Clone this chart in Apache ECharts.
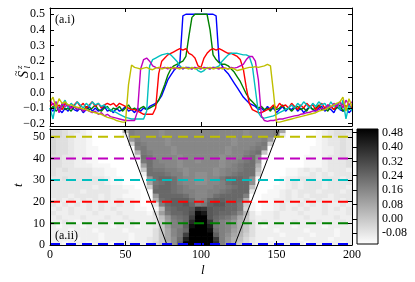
<!DOCTYPE html>
<html><head><meta charset="utf-8">
<script src="https://cdn.jsdelivr.net/npm/echarts@6/dist/echarts.min.js"></script>
<style>html,body{margin:0;padding:0;background:#fff}#c{width:415px;height:282px}</style>
</head><body><div id="c"></div>
<script>
// ---------- data ----------
const sites = [0,2,4,6,8,10,12,14,16,18,20,22,24,26,28,30,32,34,36,38,40,42,44,46,48,50,52,54,56,58,60,62,64,66,68,70,72,74,76,78,80,82,84,86,88,90,92,94,96,98,100,102,104,106,108,110,112,114,116,118,120,122,124,126,128,130,132,134,136,138,140,142,144,146,148,150,152,154,156,158,160,162,164,166,168,170,172,174,176,178,180,182,184,186,188,190,192,194,196,198,200];
const profileTimes = [0.5, 10, 20, 30, 40, 50];

const szT0 = [-0.10,-0.12,-0.09,-0.11,-0.13,-0.10,-0.12,-0.09,-0.11,-0.12,
 -0.10,-0.13,-0.11,-0.09,-0.12,-0.10,-0.12,-0.11,-0.09,-0.12,
 -0.11,-0.13,-0.10,-0.12,-0.11,-0.09,-0.12,-0.11,-0.13,-0.10,
 -0.12,-0.10,-0.11,-0.09,-0.08,-0.07,-0.05,-0.02,0.03,0.08,
 0.11,0.14,0.16,0.19,0.49,0.50,0.50,0.50,0.50,0.50,
 0.50,0.50,0.50,0.50,0.50,0.49,0.20,0.17,0.14,0.12,
 0.09,0.06,0.03,0.00,-0.03,-0.05,-0.07,-0.08,-0.09,-0.11,
 -0.10,-0.12,-0.09,-0.11,-0.10,-0.13,-0.11,-0.09,-0.12,-0.10,
 -0.11,-0.09,-0.12,-0.10,-0.13,-0.11,-0.09,-0.11,-0.12,-0.10,
 -0.09,-0.12,-0.10,-0.11,-0.13,-0.09,-0.11,-0.12,-0.10,-0.13,
 -0.11];
const szT10 = [-0.11,-0.09,-0.12,-0.10,-0.08,-0.11,-0.10,-0.12,-0.09,-0.11,
 -0.10,-0.12,-0.09,-0.11,-0.10,-0.08,-0.11,-0.12,-0.10,-0.09,
 -0.12,-0.10,-0.11,-0.09,-0.12,-0.10,-0.08,-0.11,-0.10,-0.12,
 -0.10,-0.09,-0.11,-0.10,-0.09,-0.08,-0.05,0.00,0.05,0.11,
 0.15,0.17,0.18,0.19,0.20,0.23,0.36,0.48,0.50,0.50,
 0.50,0.50,0.50,0.40,0.24,0.21,0.19,0.18,0.18,0.17,
 0.15,0.13,0.10,0.07,0.03,-0.01,-0.04,-0.06,-0.08,-0.10,
 -0.09,-0.11,-0.10,-0.12,-0.09,-0.11,-0.10,-0.08,-0.11,-0.10,
 -0.12,-0.10,-0.09,-0.11,-0.10,-0.12,-0.09,-0.11,-0.10,-0.08,
 -0.11,-0.10,-0.12,-0.09,-0.11,-0.10,-0.08,-0.12,-0.10,-0.11,
 -0.09];
const szT20 = [-0.09,-0.07,-0.10,-0.08,-0.11,-0.07,-0.09,-0.10,-0.08,-0.06,
 -0.09,-0.07,-0.10,-0.08,-0.06,-0.09,-0.07,-0.10,-0.08,-0.07,
 -0.08,-0.07,-0.09,-0.07,-0.08,-0.09,-0.10,-0.11,-0.11,-0.12,
 -0.13,-0.14,-0.14,-0.14,-0.14,-0.10,0.12,0.20,0.22,0.24,
 0.25,0.26,0.27,0.28,0.27,0.28,0.25,0.24,0.22,0.17,
 0.16,0.22,0.25,0.27,0.28,0.27,0.28,0.27,0.26,0.25,
 0.25,0.24,0.23,0.21,0.15,0.03,-0.07,-0.11,-0.12,-0.13,
 -0.13,-0.12,-0.11,-0.10,-0.08,-0.10,-0.07,-0.09,-0.08,-0.10,
 -0.07,-0.09,-0.11,-0.08,-0.10,-0.07,-0.09,-0.08,-0.11,-0.09,
 -0.07,-0.10,-0.08,-0.09,-0.11,-0.08,-0.10,-0.07,-0.09,-0.08,
 -0.10];
const szT30 = [-0.10,-0.17,-0.06,-0.12,-0.08,-0.05,-0.10,-0.07,-0.09,-0.06,
 -0.08,-0.10,-0.07,-0.09,-0.06,-0.08,-0.07,-0.09,-0.08,-0.10,
 -0.11,-0.12,-0.13,-0.14,-0.15,-0.16,-0.165,-0.17,-0.17,-0.17,
 -0.17,-0.17,-0.12,0.17,0.21,0.22,0.23,0.24,0.245,0.25,
 0.24,0.22,0.20,0.17,0.15,0.16,0.16,0.15,0.16,0.14,
 0.13,0.14,0.16,0.15,0.16,0.16,0.17,0.20,0.22,0.24,
 0.25,0.25,0.25,0.245,0.24,0.24,0.23,0.17,0.02,-0.13,
 -0.16,-0.165,-0.16,-0.155,-0.15,-0.14,-0.13,-0.12,-0.11,-0.10,
 -0.08,-0.10,-0.07,-0.09,-0.06,-0.08,-0.10,-0.07,-0.09,-0.06,
 -0.08,-0.07,-0.10,-0.06,-0.09,-0.07,-0.11,-0.05,-0.17,-0.08,
 -0.12];
const szT40 = [-0.05,-0.08,-0.06,-0.13,-0.07,-0.09,-0.08,-0.10,-0.09,-0.11,
 -0.10,-0.12,-0.11,-0.12,-0.13,-0.12,-0.14,-0.13,-0.15,-0.14,
 -0.155,-0.16,-0.165,-0.17,-0.175,-0.18,-0.18,-0.18,-0.18,-0.12,
 0.15,0.21,0.22,0.20,0.17,0.16,0.155,0.155,0.16,0.15,
 0.16,0.15,0.155,0.16,0.15,0.16,0.155,0.15,0.16,0.155,
 0.15,0.16,0.155,0.15,0.16,0.155,0.15,0.16,0.155,0.15,
 0.16,0.155,0.16,0.17,0.18,0.21,0.23,0.23,0.20,0.08,
 -0.15,-0.18,-0.185,-0.18,-0.18,-0.175,-0.17,-0.17,-0.165,-0.16,
 -0.155,-0.15,-0.148,-0.14,-0.137,-0.13,-0.127,-0.12,-0.118,-0.11,
 -0.10,-0.11,-0.08,-0.10,-0.07,-0.09,-0.06,-0.10,-0.05,-0.08,
 -0.06];
const szT50 = [-0.06,-0.03,-0.10,-0.04,-0.07,-0.06,-0.08,-0.08,-0.09,-0.095,
 -0.10,-0.105,-0.11,-0.12,-0.125,-0.13,-0.135,-0.14,-0.15,-0.16,
 -0.165,-0.17,-0.18,-0.185,-0.19,-0.19,0.05,0.175,0.16,0.155,
 0.15,0.155,0.16,0.15,0.145,0.155,0.16,0.15,0.155,0.16,
 0.15,0.16,0.155,0.15,0.16,0.155,0.15,0.16,0.15,0.155,
 0.16,0.15,0.155,0.16,0.15,0.155,0.16,0.15,0.155,0.15,
 0.155,0.15,0.14,0.145,0.15,0.155,0.16,0.16,0.165,0.16,
 0.165,0.17,0.18,0.17,0.00,-0.19,-0.19,-0.185,-0.18,-0.175,
 -0.17,-0.165,-0.16,-0.155,-0.15,-0.145,-0.14,-0.135,-0.13,-0.12,
 -0.115,-0.11,-0.10,-0.09,-0.08,-0.07,-0.06,-0.03,-0.12,-0.04,
 -0.09];

// heatmap: cell centres and coded levels (one character per cell)
const heatL = [2,6,10,14,18,22,26,30,34,38,42,46,50,54,58,62,66,70,74,78,82,86,90,94,98,102,106,110,114,118,122,126,130,134,138,142,146,150,154,158,162,166,170,174,178,182,186,190,194,198];
const heatT = [1,3,5,7,9,11,13,15,17,19,21,23,25,27,29,31,33,35,37,39,41,43,45,47,49,51,53];
const heatCodes = "0123456789abcdefghijklmnopqrstuvw";
const heatLevels = [-0.14,-0.12,-0.10,-0.08,-0.06,-0.04,-0.02,0.00,0.02,0.04,0.06,0.08,0.10,0.12,0.14,0.16,0.18,0.20,0.22,0.24,0.26,0.28,0.30,0.32,0.34,0.36,0.38,0.40,0.42,0.44,0.46,0.48,0.50];
const heatRows = [
 "2212221222122222357aejwwwwwrgda7532221222212222212",
 "2222122212222122347beiswwwwpgda8532212222122221222",
 "2212222212222122247bfhowwwwkgeb9642222122221222122",
 "2221222122221222247bfhjwwwuigfca742221222212222122",
 "2122212222122212237cggkuwwshgfda742122221222212222",
 "2232122232222322237cghjrwwpigfda742322223222322232",
 "2322232223223222238dhijowwljihfb732223222232222322",
 "322322232223222214chjjkmvtlkjjif931223222322232223",
 "2323223232322211019ijkklqplkkjjh510112323232232323",
 "323232323223221003gjkkljghklljjh610112322323232232",
 "23232323232322100aijkkkifgjkkjjia00112232232322323",
 "33323333232211100djjjjigffgijjjjg00111232323332333",
 "33333233332221100jjjihggffgghijjj30011232333233323",
 "33333332332211006ijjihgffffgghijj80001123233323332",
 "3333333332110000bhijigffeeffgijjje0000123233323333",
 "3343333332110000dijjigffeeffhjjjie1000122333233323",
 "4333333221100002iiihggefeefefghiii6000011223232333",
 "4343333221100007ihhggfeffffefgghii8000011232323332",
 "443322211100000ciggffeffffffefghiia000000011123334",
 "443322110000000higfffeffefffeffghid000000011123334",
 "443322110000004ihffffeffffffefffhie000000011123343",
 "54432211000000ahgfffeffffffffeffghi700000001122343",
 "54432211000000ghffffeffffffffefffghg00000001122343",
 "54432210000006hgfffeffffffffffefffgh60000000123343",
 "5443221000000dgffffeffffffffffeffffgd0000000123343",
 "5543221000002gffffefffffffffffffeffffg300000123443",
 "5543321000009gffffefffffffffffffeffffgb00000123444"
];
const coneLeft = [[77.5, 0], [49.0, 53.6]];
const coneRight = [[122.3, 0], [151.7, 53.6]];

// axes / ticks
const xTicks = [0, 50, 100, 150, 200];
const szTicks = [-0.2, -0.1, 0.0, 0.1, 0.2, 0.3, 0.4, 0.5];
const tTicks = [0, 10, 20, 30, 40, 50];
const cbTicks = [-0.08, 0.00, 0.08, 0.16, 0.24, 0.32, 0.40, 0.48];
const szRange = [-0.215, 0.54];
const tRange = [0, 53.6];
const lRange = [0, 200];
const cbRange = [-0.14, 0.50];

// ---------- chart ----------
const FONT = 'Liberation Serif';
const profiles = [szT0, szT10, szT20, szT30, szT40, szT50];
const lineColors = ['#0000ff', '#008000', '#ff0000', '#00bfbf', '#bf00bf', '#bfbf00'];

const heatData = [];
heatRows.forEach((row, r) => {
  for (let c = 0; c < row.length; c++) {
    heatData.push([heatL[c], heatT[r], heatLevels[heatCodes.indexOf(row[c])]]);
  }
});
const dl = heatL[1] - heatL[0], dt = heatT[1] - heatT[0];

const fmt1 = v => (v < -1e-9 ? '\u2212' : '') + Math.abs(v).toFixed(1);
const fmt2 = v => v.toFixed(2);
const labelBase = { color: '#000', fontFamily: FONT, fontSize: 12 };
const tick = vals => ({ show: true, inside: true, length: 4, lineStyle: { color: '#000', width: 1 }, customValues: vals });
const aLine = { show: true, onZero: false, lineStyle: { color: '#000', width: 1 } };

function xAx(grid, pos, labels) {
  return { type: 'value', gridIndex: grid, position: pos, min: lRange[0], max: lRange[1], z: 10,
    axisLine: aLine, axisTick: tick(xTicks), splitLine: { show: false },
    axisLabel: labels ? Object.assign({ margin: 4, customValues: xTicks }, labelBase) : { show: false } };
}
function yAx(grid, pos, range, ticks, fmt) {
  return { type: 'value', gridIndex: grid, position: pos, min: range[0], max: range[1], z: 10,
    axisLine: aLine, axisTick: tick(ticks), splitLine: { show: false },
    axisLabel: fmt ? Object.assign({ margin: 5, customValues: ticks, formatter: fmt }, labelBase) : { show: false } };
}

const series = [];
profiles.forEach((p, i) => {
  series.push({ type: 'line', xAxisIndex: 0, yAxisIndex: 0, data: sites.map((l, k) => [l, p[k]]),
    showSymbol: false, symbol: 'none', lineStyle: { color: lineColors[i], width: 1.4 }, z: 2 + i, silent: true });
});
series.push({ type: 'custom', xAxisIndex: 2, yAxisIndex: 2, clip: true, z: 1, silent: true,
  encode: { x: 0, y: 1 }, data: heatData,
  renderItem: (params, api) => {
    const l = api.value(0), t = api.value(1);
    const p0 = api.coord([l - dl / 2, t + dt / 2]);
    const p1 = api.coord([l + dl / 2, t - dt / 2]);
    return { type: 'rect', shape: { x: p0[0], y: p0[1], width: p1[0] - p0[0] + 0.6, height: p1[1] - p0[1] + 0.6 },
      style: { fill: api.visual('color') } };
  } });
[coneLeft, coneRight].forEach(c => series.push({ type: 'line', xAxisIndex: 2, yAxisIndex: 2, data: c, symbol: 'none',
  lineStyle: { color: '#000', width: 1 }, z: 3, silent: true }));
profileTimes.forEach((t, i) => series.push({ type: 'line', xAxisIndex: 2, yAxisIndex: 2,
  data: [[lRange[0], t], [lRange[1], t]], symbol: 'none',
  lineStyle: { color: lineColors[i], width: 2, type: [10, 6] }, z: 4, silent: true }));
series.push({ type: 'custom', xAxisIndex: 4, yAxisIndex: 4, silent: true, data: [[0, 0]], z: 2,
  renderItem: (params, api) => {
    const p0 = api.coord([0, cbRange[1]]), p1 = api.coord([1, cbRange[0]]);
    return { type: 'rect', shape: { x: p0[0], y: p0[1], width: p1[0] - p0[0], height: p1[1] - p0[1] },
      style: { fill: { type: 'linear', x: 0, y: 0, x2: 0, y2: 1,
        colorStops: [{ offset: 0, color: '#000000' }, { offset: 1, color: '#ffffff' }] },
        stroke: '#000', lineWidth: 1 } };
  } });

const txt = (text, x, y, font, extra) => Object.assign({ type: 'text', x, y, z: 100, silent: true,
  style: { text, font, fill: '#000', align: 'left', verticalAlign: 'middle', textAlign: 'left', textVerticalAlign: 'middle' } }, extra || {});

const option = {
  animation: false,
  backgroundColor: '#fff',
  grid: [
    { left: 50, top: 8, width: 302, height: 118, outerBoundsMode: 'none' },
    { left: 50, top: 129, width: 302, height: 116, outerBoundsMode: 'none' },
    { left: 357, top: 129, width: 21, height: 115, outerBoundsMode: 'none' }
  ],
  xAxis: [
    xAx(0, 'bottom', false), xAx(0, 'top', false),
    xAx(1, 'bottom', true), xAx(1, 'top', false),
    { type: 'value', gridIndex: 2, min: 0, max: 1, show: false }
  ],
  yAxis: [
    yAx(0, 'left', szRange, szTicks, fmt1), yAx(0, 'right', szRange, szTicks, null),
    yAx(1, 'left', tRange, tTicks, v => String(v)), yAx(1, 'right', tRange, tTicks, null),
    { type: 'value', gridIndex: 2, position: 'right', min: cbRange[0], max: cbRange[1], z: 10,
      axisLine: { show: false }, axisTick: tick(cbTicks), splitLine: { show: false },
      axisLabel: Object.assign({ margin: 4, customValues: cbTicks, formatter: fmt2 }, labelBase) }
  ],
  visualMap: [{ type: 'continuous', show: false, min: cbRange[0], max: cbRange[1], seriesIndex: 6, dimension: 2,
    inRange: { color: ['#ffffff', '#000000'] } }],
  graphic: [
    txt('(a.i)', 55, 20, `12px "${FONT}"`),
    txt('(a.ii)', 55, 235.5, `12px "${FONT}"`),
    Object.assign(txt('l', 201, 271, `italic 13px "${FONT}"`), {}),
    txt('t', 19, 187, `italic 13px "${FONT}"`, { rotation: Math.PI / 2 }),
    { type: 'group', x: 24, y: 78, rotation: Math.PI / 2, z: 100, silent: true, children: [
      txt('S', 0, 0, `italic 14px "${FONT}"`),
      txt('~', 2, -8, `10px "${FONT}"`),
      txt('z', 9, -4, `italic 9px "${FONT}"`),
      txt('l', 9.5, 4, `italic 9px "${FONT}"`)
    ] }
  ],
  series
};
const chart = echarts.init(document.getElementById('c'), null, { renderer: 'canvas' });
chart.setOption(option);
</script></body></html>
